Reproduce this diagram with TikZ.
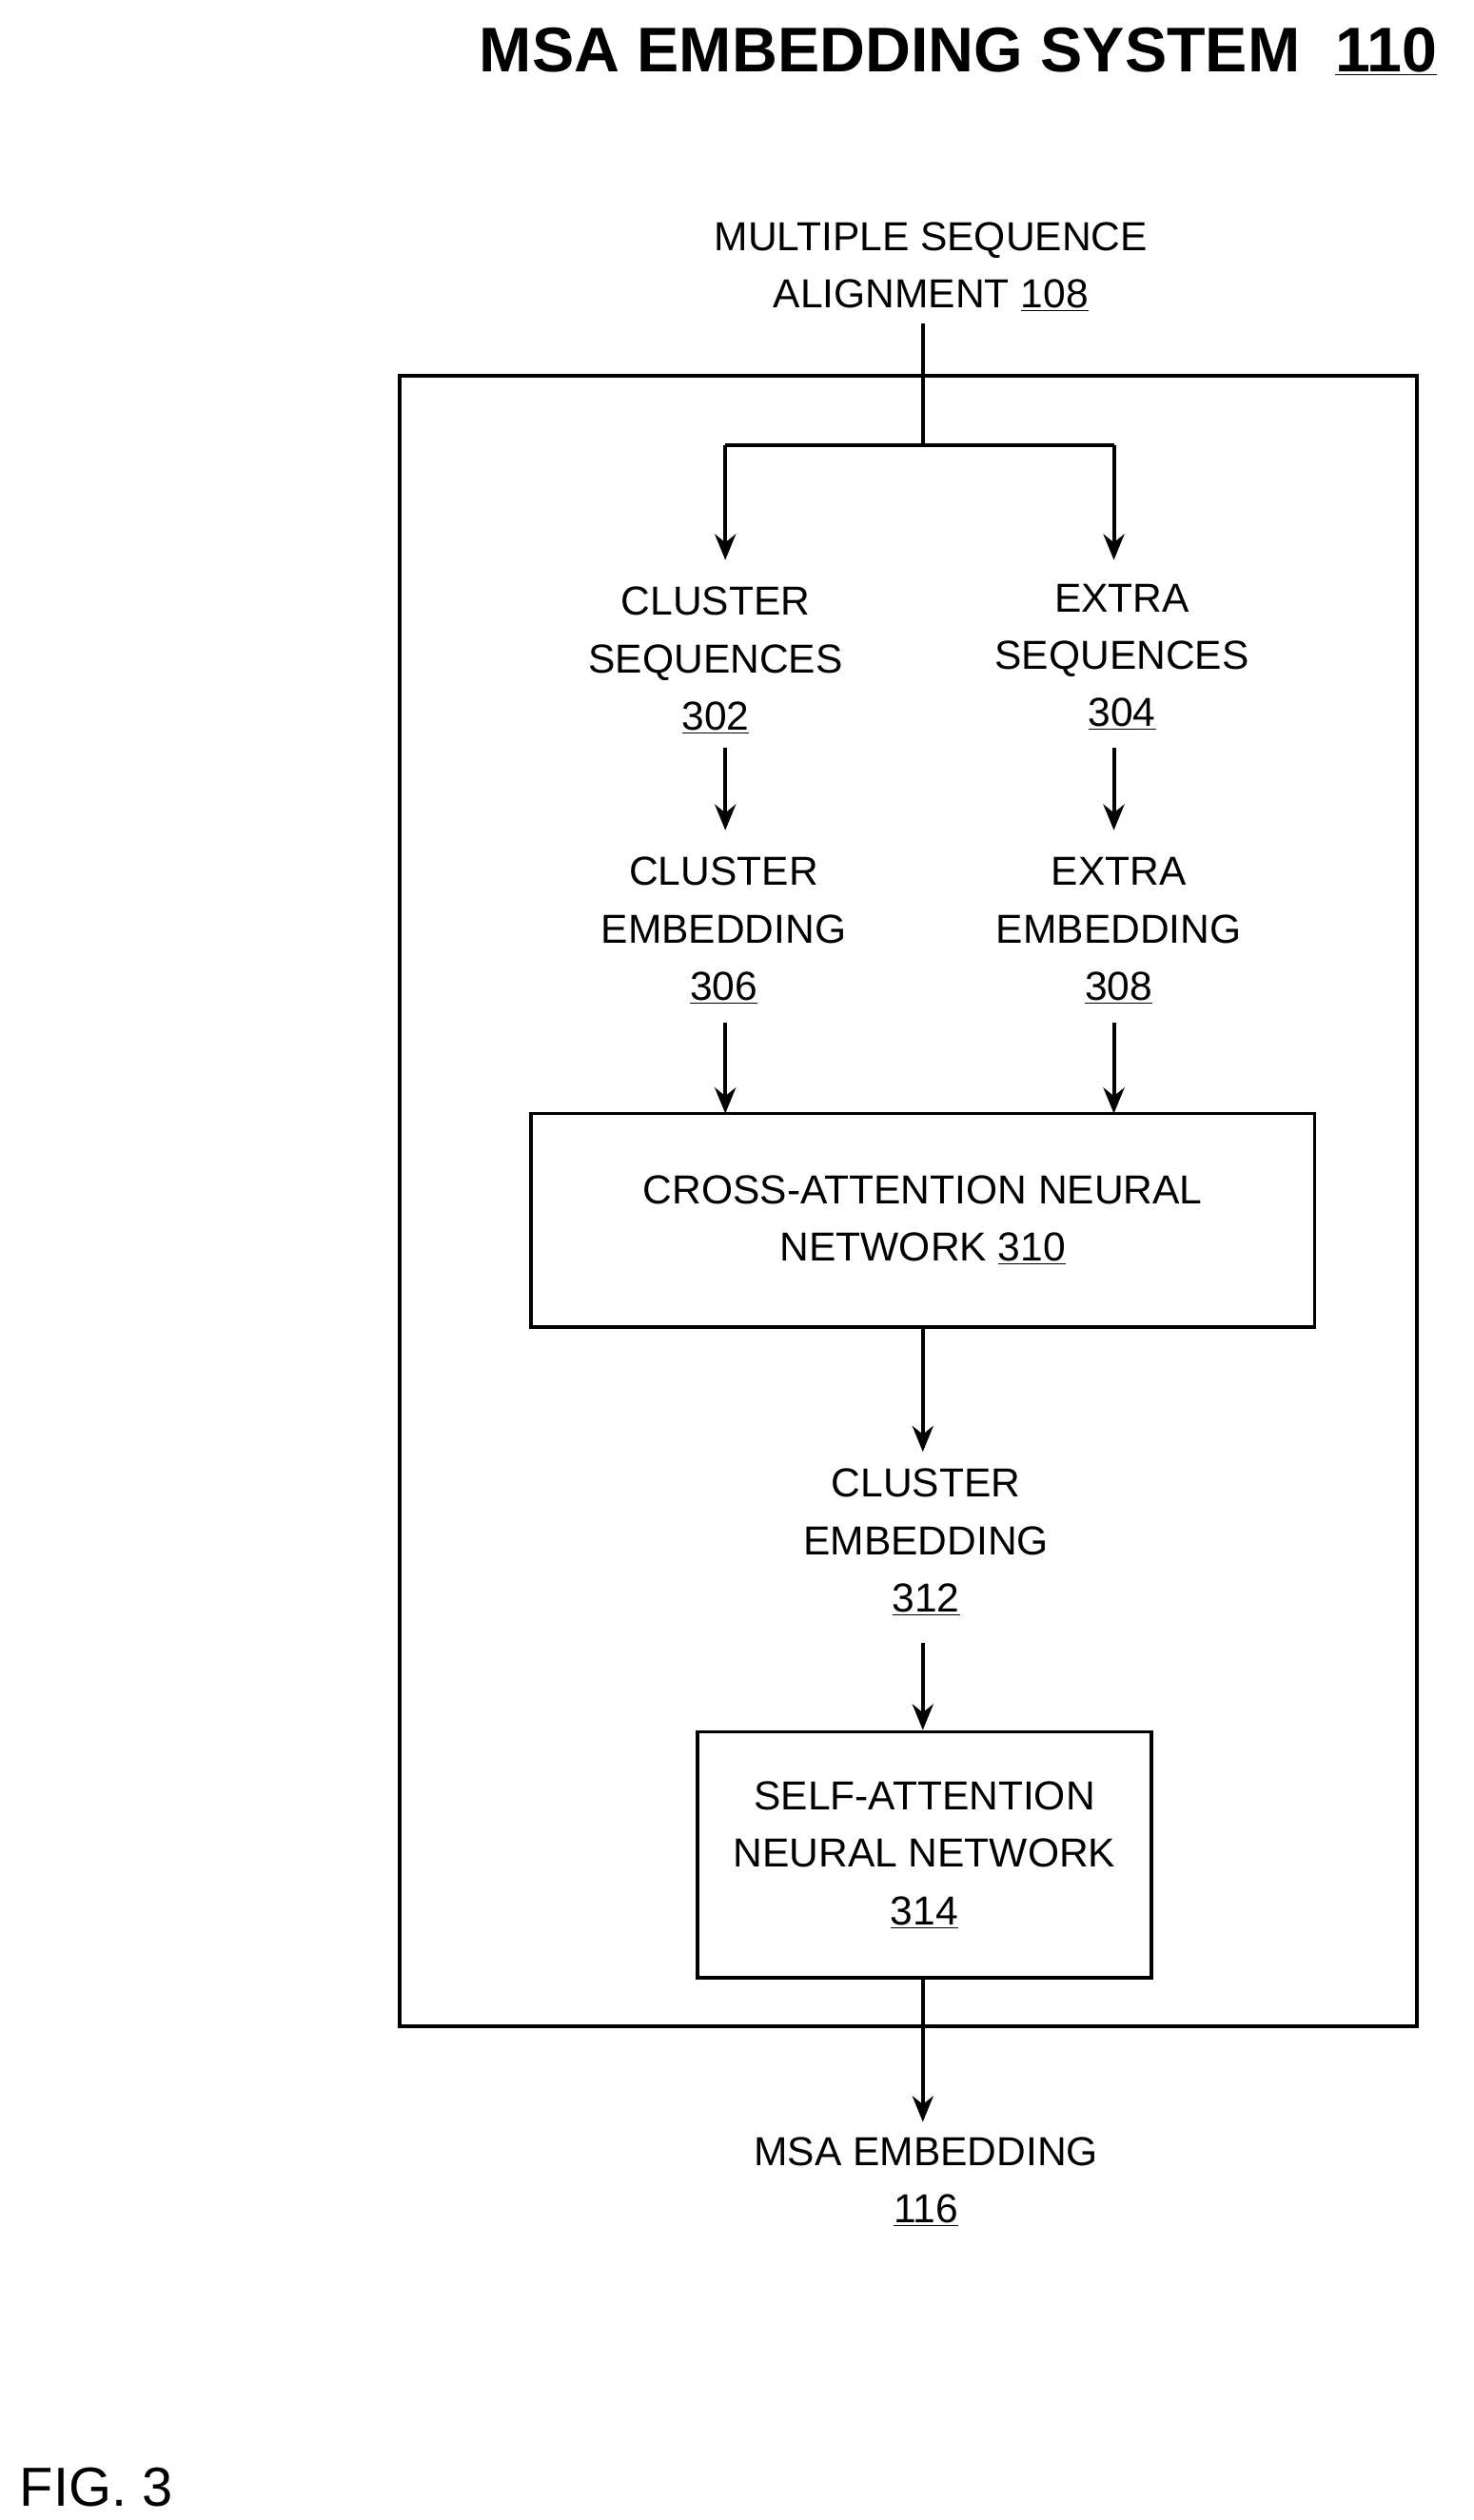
\documentclass[tikz,border=0pt]{standalone}
\usepackage{fontspec}
\setmainfont{Liberation Sans}
\usetikzlibrary{arrows.meta}
\begin{document}
\begin{tikzpicture}[x=1pt,y=-1pt,
  txt/.style={align=center,inner sep=0pt,font=\fontsize{25}{35.5}\selectfont},
  box/.style={draw,line width=2.2pt},
  arr/.style={line width=2.4pt,-{Stealth[length=16pt,width=13pt]}},
  ln/.style={line width=2.4pt}]
\useasboundingbox (0,0) rectangle (910,1557);
\node[anchor=east,inner sep=0pt,font=\fontsize{39}{48}\bfseries\selectfont] (title) at (888,32) {MSA EMBEDDING SYSTEM\ \ \underline{110}};
\node[txt] (msa) at (575,165) {MULTIPLE SEQUENCE\\ALIGNMENT \underline{108}};
\node[box,minimum width=628pt,minimum height=1020pt] (sys) at (561,742) {};
\node[txt] (cs) at (442,408) {CLUSTER\\SEQUENCES\\\underline{302}};
\node[txt] (es) at (693,406) {EXTRA\\SEQUENCES\\\underline{304}};
\node[txt] (ce) at (447,575) {CLUSTER\\EMBEDDING\\\underline{306}};
\node[txt] (ee) at (691,575) {EXTRA\\EMBEDDING\\\underline{308}};
\node[box,minimum width=484pt,minimum height=132pt,txt] (cross) at (570,754) {CROSS-ATTENTION NEURAL\\NETWORK \underline{310}};
\node[txt] (ce2) at (572,953) {CLUSTER\\EMBEDDING\\\underline{312}};
\node[box,minimum width=280pt,minimum height=152pt,txt] (self) at (571,1146) {SELF-ATTENTION\\NEURAL NETWORK\\\underline{314}};
\node[txt] (out) at (572,1348) {MSA EMBEDDING\\\underline{116}};
\node[anchor=west,inner sep=0pt,font=\fontsize{34}{40}\selectfont] (fig) at (12,1537) {FIG. 3};
\coordinate (j) at (570,275);
\coordinate (jl) at (448,275);
\coordinate (jr) at (688,275);
\draw[ln] (570,200) -- (j);
\draw[ln] (jl) -- (jr);
\draw[arr] (jl) -- (448,346);
\draw[arr] (jr) -- (688,346);
\draw[arr] (448,462) -- (448,513);
\draw[arr] (688,462) -- (688,513);
\draw[arr] (448,632) -- (448,688);
\draw[arr] (688,632) -- (688,688);
\draw[arr] (cross.south -| 570,0) -- (570,897);
\draw[arr] (570,1015) -- (self.north -| 570,0);
\draw[arr] (self.south -| 570,0) -- (570,1311);
\end{tikzpicture}
\end{document}
